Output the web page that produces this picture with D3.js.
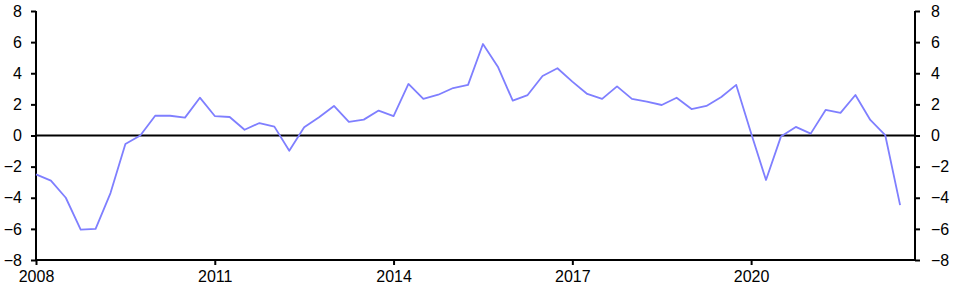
<!DOCTYPE html>
<html>
<head>
<meta charset="utf-8">
<script src="https://cdn.jsdelivr.net/npm/d3@7"></script>
<style>
  html, body { margin: 0; padding: 0; background: #fff; }
</style>
</head>
<body>
<svg id="chart" width="953" height="289"></svg>
<script>
// quarterly series, 2008 Q1 .. 2022 Q3
const START_YEAR = 2008;
const VALUES = [
  -2.5, -2.9, -4.0, -6.05, -6.0, -3.7, -0.55, 0.0,
  1.27, 1.27, 1.15, 2.43, 1.25, 1.19, 0.37, 0.8,
  0.57, -0.98, 0.53, 1.17, 1.9, 0.87, 1.02, 1.6,
  1.25, 3.31, 2.35, 2.62, 3.05, 3.25, 5.88, 4.42,
  2.24, 2.6, 3.82, 4.32, 3.46, 2.67, 2.35, 3.16,
  2.35, 2.17, 1.96, 2.43, 1.7, 1.9, 2.47, 3.25,
  0.14, -2.86, -0.07, 0.55, 0.12, 1.64, 1.45, 2.6,
  1.0, 0.03, -4.47
];
const X_TICKS = [2008, 2011, 2014, 2017, 2020];
const Y_TICKS = [-8, -6, -4, -2, 0, 2, 4, 6, 8];

const svg = d3.select("#chart");
const M = {left: 36, right: 915, top: 11, bottom: 260};
const FONT = '"Liberation Sans", Arial, sans-serif';

const x = d3.scaleLinear().domain([2008, 2022.75]).range([M.left, M.right]);
const y = d3.scaleLinear().domain([-8, 8]).range([M.bottom, M.top]);

const pts = VALUES.map((v, i) => ({t: START_YEAR + i / 4, v}));

// left axis
const gl = svg.append("g").attr("transform", `translate(${M.left},0)`)
  .call(d3.axisLeft(y).tickValues(Y_TICKS).tickSize(5).tickPadding(9).tickFormat(d3.format("d")));
// right axis
const gr = svg.append("g").attr("transform", `translate(${M.right},0)`)
  .call(d3.axisRight(y).tickValues(Y_TICKS).tickSize(5).tickPadding(11).tickFormat(d3.format("d")));
// bottom axis
const gb = svg.append("g").attr("transform", `translate(0,${M.bottom})`)
  .call(d3.axisBottom(x).tickValues(X_TICKS).tickSize(5).tickPadding(6).tickFormat(d3.format("d")));

[gl, gr, gb].forEach(g => {
  g.select(".domain").attr("stroke", "#000").attr("stroke-width", 2);
  g.selectAll(".tick line").attr("stroke", "#000").attr("stroke-width", 2);
  g.selectAll("text")
    .style("font-size", "16px")
    .style("font-family", FONT)
    .style("fill", "#000");
});
gl.select(".domain").attr("d", `M0,${M.top}V${M.bottom}`);
gr.select(".domain").attr("d", `M0,${M.top}V${M.bottom}`);
gb.select(".domain").attr("d", `M${M.left},0H${M.right}`);

// zero line
svg.append("line")
  .attr("x1", M.left).attr("x2", M.right)
  .attr("y1", y(0)).attr("y2", y(0))
  .attr("stroke", "#000").attr("stroke-width", 2);

// series
svg.append("path")
  .datum(pts)
  .attr("fill", "none")
  .attr("stroke", "#7f7fff")
  .attr("stroke-width", 1.8)
  .attr("stroke-linejoin", "round")
  .attr("d", d3.line().x(d => x(d.t)).y(d => y(d.v)));
</script>
</body>
</html>
